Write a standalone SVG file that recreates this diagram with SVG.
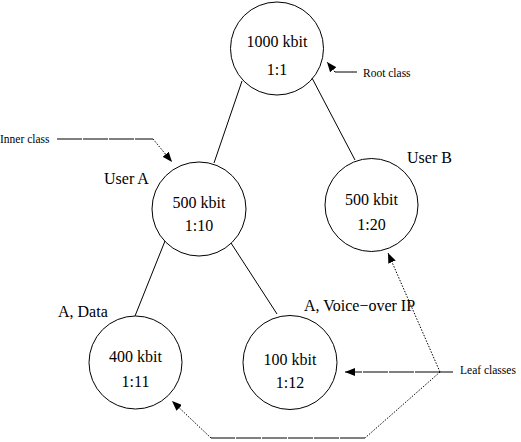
<svg xmlns="http://www.w3.org/2000/svg" width="521" height="442" viewBox="0 0 521 442">
<style>
.n{fill:none;stroke:#000;stroke-width:1}
.t{font-family:"Liberation Serif","Times New Roman",serif;font-size:16px;fill:#000}
.c{text-anchor:middle}
.s{font-family:"Liberation Serif","Times New Roman",serif;font-size:11.5px;fill:#000}
.e{stroke:#000;stroke-width:1;fill:none}
.dot{stroke:#000;stroke-width:1;fill:none;stroke-dasharray:1.5 1.5}
.dash{stroke:#000;stroke-width:1;fill:none;stroke-dasharray:25 1}
</style>
<defs>
<marker id="ah" viewBox="0 0 10 8" refX="10" refY="4" markerWidth="10" markerHeight="8" markerUnits="userSpaceOnUse" orient="auto">
<path d="M0,0 L10,4 L0,8 Z" fill="#000"/>
</marker>
</defs>
<g id="connectors">
<line class="e" x1="242" y1="81" x2="214" y2="163"/>
<line class="e" x1="312" y1="78" x2="355" y2="160"/>
<line class="e" x1="165" y1="241" x2="135" y2="316"/>
<line class="e" x1="231" y1="243" x2="277" y2="314"/>
</g>
<g id="root">
<circle class="n" cx="277" cy="48.5" r="46.5"/>
<text class="t c" x="277" y="47">1000 kbit</text>
<text class="t c" x="277" y="75">1:1</text>
</g>
<g id="userA">
<circle class="n" cx="199" cy="209" r="47"/>
<text class="t c" x="199" y="208">500 kbit</text>
<text class="t c" x="199" y="231">1:10</text>
<text class="t" x="104" y="184">User A</text>
</g>
<g id="userB">
<circle class="n" cx="371.5" cy="205" r="46.5"/>
<text class="t c" x="371.5" y="205">500 kbit</text>
<text class="t c" x="371.5" y="230">1:20</text>
<text class="t" x="407" y="163">User B</text>
</g>
<g id="leafData">
<circle class="n" cx="135.5" cy="362.5" r="46.5"/>
<text class="t c" x="135.5" y="362">400 kbit</text>
<text class="t c" x="135.5" y="387">1:11</text>
<text class="t" x="58" y="317">A, Data</text>
</g>
<g id="leafVoIP">
<circle class="n" cx="290" cy="362.5" r="47"/>
<text class="t c" x="290" y="365">100 kbit</text>
<text class="t c" x="290" y="388">1:12</text>
<text class="t" x="304" y="311">A, Voice−over IP</text>
</g>
<g id="rootLabel">
<polyline class="e" points="357,72 335,72"/>
<line class="dot" x1="335" y1="72" x2="327" y2="62" marker-end="url(#ah)"/>
<text class="s" x="363" y="77">Root class</text>
</g>
<g id="innerLabel">
<text class="s" x="0" y="143">Inner class</text>
<line class="dash" x1="57" y1="139" x2="153" y2="139"/>
<line class="dot" x1="153" y1="139" x2="172" y2="162" marker-end="url(#ah)"/>
</g>
<g id="leafLabel">
<text class="s" x="460" y="374">Leaf classes</text>
<line class="e" x1="440" y1="372" x2="453" y2="372"/>
<line class="dash" x1="440" y1="372" x2="345" y2="372" marker-end="url(#ah)"/>
<line class="dot" x1="440" y1="372" x2="388" y2="253" marker-end="url(#ah)"/>
<polyline class="dot" points="440,372 365,438"/>
<line class="dash" x1="365" y1="438" x2="211" y2="438"/>
<line class="dot" x1="211" y1="438" x2="172" y2="401" marker-end="url(#ah)"/>
</g>
</svg>
